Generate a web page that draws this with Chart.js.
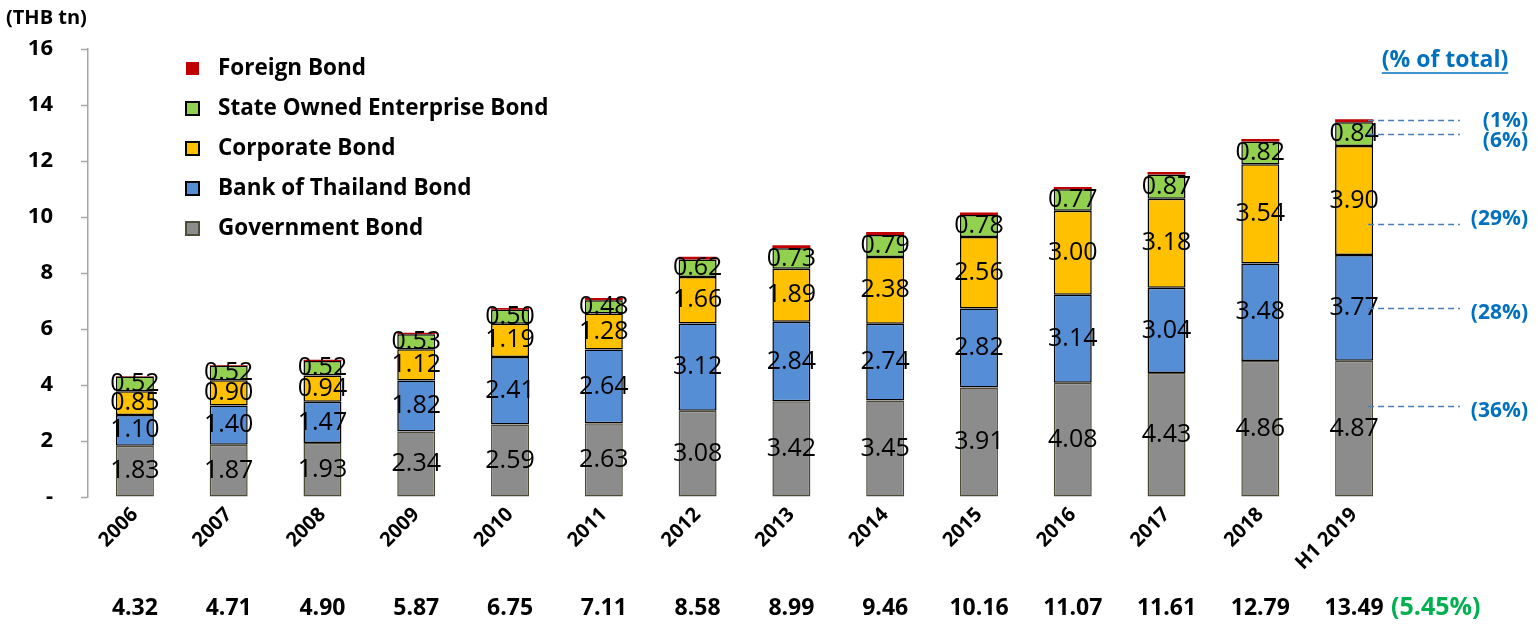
<!DOCTYPE html>
<html>
<head>
<meta charset="utf-8">
<script src="https://cdn.jsdelivr.net/npm/chart.js@4.4.1/dist/chart.umd.min.js"></script>
<style>
  html, body { margin: 0; padding: 0; background: #fff; }
</style>
</head>
<body>
<canvas id="bond-market" width="1538" height="624"></canvas>
<script>
const years = ['2006', '2007', '2008', '2009', '2010', '2011', '2012', '2013', '2014', '2015', '2016', '2017', '2018', 'H1 2019'];
const governmentBond = [1.83, 1.87, 1.93, 2.34, 2.59, 2.63, 3.08, 3.42, 3.45, 3.91, 4.08, 4.43, 4.86, 4.87];
const bankOfThailandBond = [1.10, 1.40, 1.47, 1.82, 2.41, 2.64, 3.12, 2.84, 2.74, 2.82, 3.14, 3.04, 3.48, 3.77];
const corporateBond = [0.85, 0.90, 0.94, 1.12, 1.19, 1.28, 1.66, 1.89, 2.38, 2.56, 3.00, 3.18, 3.54, 3.90];
const stateOwnedBond = [0.52, 0.52, 0.52, 0.53, 0.50, 0.48, 0.62, 0.73, 0.79, 0.78, 0.77, 0.87, 0.82, 0.84];
const foreignBond = [0.02, 0.02, 0.04, 0.06, 0.06, 0.08, 0.10, 0.11, 0.10, 0.09, 0.08, 0.09, 0.09, 0.11];
const totals = ['4.32', '4.71', '4.90', '5.87', '6.75', '7.11', '8.58', '8.99', '9.46', '10.16', '11.07', '11.61', '12.79', '13.49'];
const growthLabel = '(5.45%)';
const shareLabels = ['(1%)', '(6%)', '(29%)', '(28%)', '(36%)'];
const shareLineValues = [13.46, 12.96, 9.75, 6.75, 3.25];
const shareTextValues = [13.43, 12.71, 9.93, 6.57, 3.07];

const FONT = "'Open Sans', 'DejaVu Sans', sans-serif";

// value labels centred in each segment (foreign bond is too thin for one)
const segmentLabels = {
    id: 'segmentLabels',
    afterDatasetsDraw(chart) {
        const ctx = chart.ctx;
        ctx.save();
        ctx.font = '25px ' + FONT;
        ctx.fillStyle = '#000';
        ctx.textAlign = 'center';
        ctx.textBaseline = 'middle';
        chart.data.datasets.forEach((ds, i) => {
            if (ds.label === 'Foreign Bond') return;
            chart.getDatasetMeta(i).data.forEach((bar, j) => {
                ctx.fillText(ds.data[j].toFixed(2), bar.x, (bar.y + bar.base) / 2);
            });
        });
        ctx.restore();
    }
};

// legend, totals row and the share annotations on the right
const extras = {
    id: 'extras',
    afterDraw(chart) {
        const ctx = chart.ctx;
        const x = chart.scales.x;
        const y = chart.scales.y;
        ctx.save();

        ctx.font = 'bold 20px ' + FONT;
        ctx.fillStyle = '#000';
        ctx.textAlign = 'left';
        ctx.textBaseline = 'middle';
        ctx.fillText('(THB tn)', 6, 18);

        // legend (reverse dataset order)
        const sets = chart.data.datasets.slice().reverse();
        sets.forEach((ds, k) => {
            const top = 62 + k * 40;
            ctx.fillStyle = ds.backgroundColor;
            ctx.fillRect(186, top, 13, 13);
            if (ds.borderWidth) {
                ctx.strokeStyle = ds.borderColor;
                ctx.lineWidth = 2;
                ctx.strokeRect(186, top, 13, 13);
            }
            ctx.fillStyle = '#000';
            ctx.font = 'bold 22.5px ' + FONT;
            ctx.fillText(ds.label, 218, top + 6.5);
        });

        // totals under the axis
        ctx.font = 'bold 23px ' + FONT;
        ctx.textAlign = 'center';
        totals.forEach((t, i) => {
            ctx.fillText(t, x.getPixelForValue(i), 608);
        });
        ctx.fillStyle = '#00b050';
        ctx.font = 'bold 25px ' + FONT;
        ctx.textAlign = 'left';
        ctx.fillText(growthLabel, 1391, 608);

        // share of total
        ctx.fillStyle = '#0070c0';
        ctx.font = 'bold 23px ' + FONT;
        ctx.textAlign = 'center';
        ctx.fillText('(% of total)', 1445, 60);
        const w = ctx.measureText('(% of total)').width;
        ctx.strokeStyle = '#0070c0';
        ctx.lineWidth = 1.5;
        ctx.beginPath();
        ctx.moveTo(1445 - w / 2, 73);
        ctx.lineTo(1445 + w / 2, 73);
        ctx.stroke();

        const lastX = x.getPixelForValue(years.length - 1);
        ctx.font = 'bold 21px ' + FONT;
        ctx.strokeStyle = '#4a7ebb';
        ctx.lineWidth = 1.3;
        ctx.setLineDash([6, 4]);
        ctx.textAlign = 'right';
        shareLabels.forEach((lbl, k) => {
            const ly = Math.round(y.getPixelForValue(shareLineValues[k])) + 0.5;
            ctx.beginPath();
            ctx.moveTo(lastX + 14, ly);
            ctx.lineTo(1460, ly);
            ctx.stroke();
            ctx.fillText(lbl, 1528, y.getPixelForValue(shareTextValues[k]));
        });
        ctx.restore();
    }
};

new Chart(document.getElementById('bond-market'), {
    type: 'bar',
    data: {
        labels: years,
        datasets: [
            { label: 'Government Bond', data: governmentBond, backgroundColor: '#8c8c8c', borderColor: '#4d4a35', borderWidth: 1.5 },
            { label: 'Bank of Thailand Bond', data: bankOfThailandBond, backgroundColor: '#558ed5', borderColor: '#000', borderWidth: 1.5 },
            { label: 'Corporate Bond', data: corporateBond, backgroundColor: '#ffc000', borderColor: '#000', borderWidth: 1.5 },
            { label: 'State Owned Enterprise Bond', data: stateOwnedBond, backgroundColor: '#92d050', borderColor: '#000', borderWidth: 1.5 },
            { label: 'Foreign Bond', data: foreignBond, backgroundColor: '#c00000', borderWidth: 0 }
        ]
    },
    options: {
        responsive: false,
        animation: false,
        datasets: {
            bar: { categoryPercentage: 1, barPercentage: 0.405, borderSkipped: false }
        },
        layout: { padding: { top: 49, right: 137, left: 0, bottom: 0 } },
        plugins: { legend: { display: false }, tooltip: { enabled: false } },
        scales: {
            x: {
                stacked: true,
                grid: { display: false, drawTicks: false },
                border: { display: false },
                ticks: {
                    minRotation: 45,
                    maxRotation: 45,
                    padding: 6,
                    color: '#000',
                    font: { family: FONT, size: 20, weight: 'bold' }
                },
                afterFit(scale) { scale.height = 127; }
            },
            y: {
                stacked: true,
                min: 0,
                max: 16,
                ticks: {
                    stepSize: 2,
                    padding: 28,
                    color: '#000',
                    font: { family: FONT, size: 22, weight: 'bold' },
                    callback: v => (v === 0 ? '-' : v)
                },
                grid: { drawOnChartArea: false, tickLength: 7, tickColor: '#a6a6a6', tickWidth: 1.5 },
                border: { color: '#a6a6a6', width: 1.5 },
                afterFit(scale) { scale.width = 88; }
            }
        }
    },
    plugins: [segmentLabels, extras]
});
</script>
</body>
</html>
